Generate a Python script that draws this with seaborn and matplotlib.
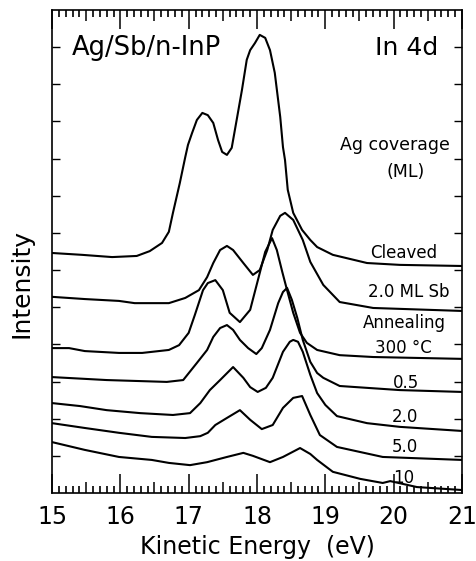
import matplotlib
matplotlib.use("Agg")
import matplotlib.pyplot as plt
from matplotlib.ticker import NullFormatter, FixedLocator
import seaborn as sns
import pandas as pd

# ---- data (kinetic energy in eV, intensity in arbitrary units incl. offset) ----
cleaved_E = [15.00, 15.44, 15.88, 16.24, 16.43, 16.61, 16.71, 16.77, 16.87, 16.95, 16.99, 17.05, 17.12,
             17.20, 17.28, 17.36, 17.43, 17.49, 17.56, 17.63, 17.71, 17.78, 17.85, 17.90, 17.97, 18.04,
             18.12, 18.19, 18.26, 18.34, 18.38, 18.41, 18.45, 18.53, 18.66, 18.78, 18.88, 19.11, 19.61,
             20.09, 21.00]
cleaved_I = [6.46, 6.41, 6.35, 6.38, 6.51, 6.73, 7.03, 7.54, 8.34, 9.04, 9.37, 9.69, 10.04,
             10.23, 10.17, 9.96, 9.50, 9.18, 9.10, 9.29, 10.12, 10.85, 11.66, 11.92, 12.11, 12.33,
             12.25, 11.92, 11.31, 10.12, 9.31, 8.96, 8.16, 7.54, 7.08, 6.81, 6.62, 6.41, 6.19,
             6.14, 6.11]

sb_E = [15.00, 15.48, 15.98, 16.21, 16.71, 16.95, 17.15, 17.27, 17.36, 17.46, 17.56, 17.65, 17.80,
        17.94, 18.04, 18.15, 18.23, 18.34, 18.41, 18.53, 18.67, 18.78, 18.97, 19.21, 19.70, 21.00]
sb_I = [5.28, 5.22, 5.17, 5.11, 5.11, 5.25, 5.46, 5.81, 6.19, 6.54, 6.65, 6.54, 6.19,
        5.87, 6.00, 6.54, 7.08, 7.46, 7.54, 7.35, 6.81, 6.22, 5.60, 5.14, 4.98, 4.90]

anneal_E = [15.00, 15.25, 15.48, 15.98, 16.32, 16.71, 16.86, 17.00, 17.09, 17.21, 17.28, 17.39, 17.50,
            17.60, 17.75, 17.90, 18.04, 18.12, 18.22, 18.29, 18.37, 18.44, 18.53, 18.63, 18.73, 18.88,
            19.21, 19.70, 21.00]
anneal_I = [3.90, 3.90, 3.82, 3.77, 3.77, 3.85, 3.98, 4.31, 4.79, 5.46, 5.65, 5.73, 5.46,
            4.85, 4.60, 4.93, 5.92, 6.49, 6.86, 6.54, 5.95, 5.46, 4.85, 4.31, 4.04, 3.85,
            3.71, 3.66, 3.61]

ag05_E = [15.00, 15.80, 16.68, 16.92, 17.12, 17.27, 17.36, 17.46, 17.56, 17.65, 17.75, 17.87, 17.99,
          18.07, 18.19, 18.31, 18.38, 18.44, 18.51, 18.59, 18.67, 18.78, 18.88, 18.97, 19.21, 19.61,
          20.09, 21.00]
ag05_I = [3.12, 3.04, 2.99, 3.04, 3.50, 3.85, 4.20, 4.44, 4.52, 4.39, 4.12, 3.90, 3.74,
          3.90, 4.39, 5.11, 5.41, 5.52, 5.20, 4.71, 4.12, 3.53, 3.23, 3.10, 2.88, 2.83,
          2.77, 2.72]

ag20_E = [15.00, 15.41, 15.80, 16.29, 16.77, 17.02, 17.17, 17.31, 17.46, 17.65, 17.80, 17.90, 18.01,
          18.13, 18.23, 18.38, 18.48, 18.53, 18.60, 18.67, 18.78, 18.88, 19.00, 19.17, 19.61, 20.09,
          21.00]
ag20_I = [2.42, 2.34, 2.23, 2.15, 2.10, 2.15, 2.42, 2.77, 3.04, 3.39, 3.10, 2.85, 2.72,
          2.83, 3.10, 3.80, 4.07, 4.12, 4.07, 3.80, 3.18, 2.69, 2.37, 2.07, 1.88, 1.78,
          1.67]

ag50_E = [15.00, 15.48, 15.98, 16.46, 16.95, 17.17, 17.28, 17.39, 17.56, 17.75, 17.90, 18.07, 18.23,
          18.38, 18.53, 18.66, 18.78, 18.92, 19.17, 19.84, 21.00]
ag50_I = [1.88, 1.75, 1.62, 1.51, 1.48, 1.53, 1.62, 1.83, 2.02, 2.23, 1.97, 1.72, 1.83,
          2.29, 2.56, 2.61, 2.10, 1.56, 1.24, 0.97, 0.89]

ag10_E = [15.00, 15.48, 15.98, 16.46, 16.71, 17.02, 17.27, 17.56, 17.80, 17.94, 18.19, 18.38, 18.63,
          18.78, 18.88, 19.11, 19.51, 19.84, 19.95, 20.34, 21.00]
ag10_I = [1.37, 1.16, 0.97, 0.89, 0.81, 0.75, 0.83, 0.97, 1.08, 1.00, 0.83, 0.97, 1.21,
          1.05, 0.89, 0.57, 0.38, 0.27, 0.32, 0.16, 0.08]

curve_names = ["Cleaved", "2.0 ML Sb", "Annealing", "0.5", "2.0", "5.0", "10"]
curve_E = [cleaved_E, sb_E, anneal_E, ag05_E, ag20_E, ag50_E, ag10_E]
curve_I = [cleaved_I, sb_I, anneal_I, ag05_I, ag20_I, ag50_I, ag10_I]

# label texts and their anchor positions (E, I)
label_texts = ["Cleaved", "2.0 ML Sb", "Annealing", "300 °C", "0.5", "2.0", "5.0", "10"]
label_E = [20.14, 20.22, 20.15, 20.14, 20.18, 20.17, 20.17, 20.14]
label_I = [6.33, 5.28, 4.44, 3.77, 2.83, 1.91, 1.10, 0.27]

x_ticks = [15, 16, 17, 18, 19, 20, 21]
half_ticks = [15.5, 16.5, 17.5, 18.5, 19.5, 20.5]
tenth_ticks = [15 + k / 10 for k in range(61) if k % 5 != 0]

# ---- plotting ----
sns.set_style("ticks")
plt.rcParams["font.family"] = ["DejaVu Sans"]
plt.rcParams["text.color"] = "black"
plt.rcParams["axes.labelcolor"] = "black"
plt.rcParams["xtick.color"] = "black"
plt.rcParams["ytick.color"] = "black"
plt.rcParams["axes.edgecolor"] = "black"

fig = plt.figure(figsize=(4.77, 5.61), dpi=100)
ax = fig.add_axes([52 / 477, 68 / 561, 410 / 477, 483 / 561])

for name, E, I in zip(curve_names, curve_E, curve_I):
    df = pd.DataFrame({"E": E, "I": I})
    sns.lineplot(data=df, x="E", y="I", ax=ax, color="black", linewidth=1.5,
                 sort=False, estimator=None)

ax.set_xlim(15, 21)
ax.set_ylim(0, 13)
ax.set_yticks(range(1, 13))
ax.yaxis.set_major_formatter(NullFormatter())
for sp in ax.spines.values():
    sp.set_linewidth(1.2)

# extra twin axes carrying the 0.1 eV and 0.5 eV ticks
ax_tenth = ax.twiny()
ax_half = ax.twiny()
for tw, locs, ln, wd in [(ax_tenth, tenth_ticks, 5.0, 1.2), (ax_half, half_ticks, 8.0, 1.1)]:
    tw.set_xlim(15, 21)
    tw.xaxis.set_major_locator(FixedLocator(locs))
    tw.tick_params(axis="x", which="major", direction="in", length=ln, width=wd,
                   top=True, bottom=True, labeltop=False, labelbottom=False)
    for sp in tw.spines.values():
        sp.set_visible(False)

ax.set_xticks(x_ticks)
ax.set_xticklabels([str(t) for t in x_ticks])
ax.tick_params(axis="x", which="major", direction="in", length=14, width=1.1,
               top=True, bottom=True, labelsize=17, pad=9, labeltop=False)
ax.tick_params(axis="y", which="major", direction="in", length=6, width=1.0,
               left=True, right=True)

ax.set_xlabel("Kinetic Energy  (eV)", fontsize=17, labelpad=4)
ax.set_ylabel("")
fig.text(22 / 477, 1 - 284 / 561, "Intensity", rotation=90, fontsize=18,
         ha="center", va="center")

ax.text(15.29, 11.79, "Ag/Sb/n-InP", fontsize=18.5, ha="left", va="baseline")
ax.text(20.65, 11.79, "In 4d", fontsize=18, ha="right", va="baseline")
ax.text(20.02, 9.23, "Ag coverage", fontsize=12.5, ha="center", va="baseline")
ax.text(20.17, 8.51, "(ML)", fontsize=12.5, ha="center", va="baseline")

for t, e, i in zip(label_texts, label_E, label_I):
    ax.text(e, i, t, fontsize=12, ha="center", va="baseline")

fig.savefig("out.png", dpi=100)
